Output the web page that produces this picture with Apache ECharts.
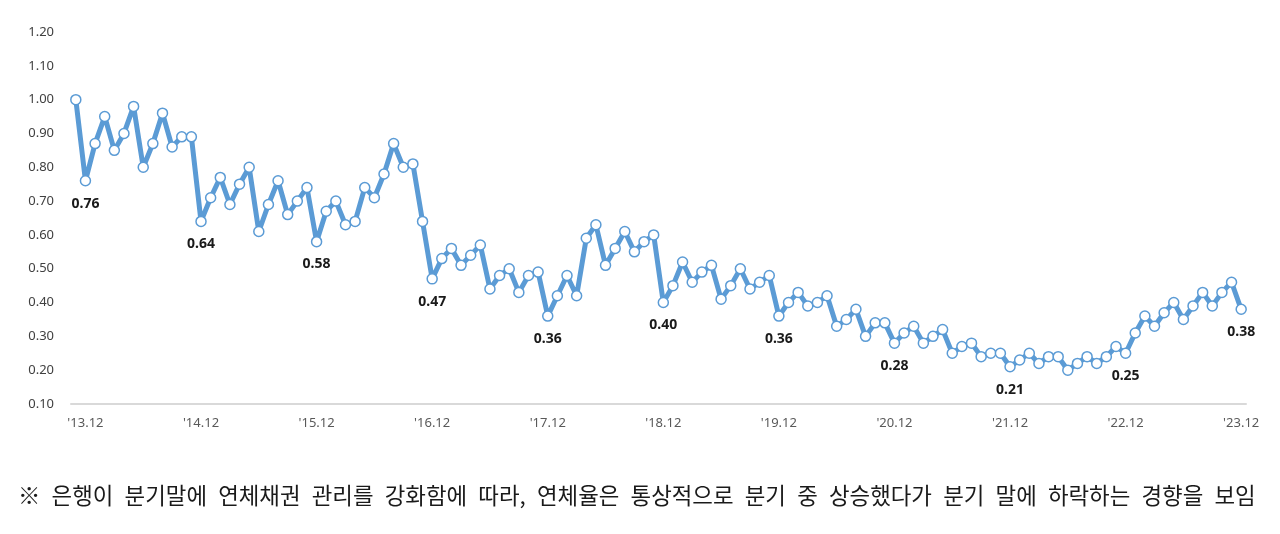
<!DOCTYPE html>
<html>
<head>
<meta charset="utf-8">
<title>은행 연체율 추이</title>
<script src="https://cdn.jsdelivr.net/npm/echarts@6/dist/echarts.min.js"></script>
<style>
  html, body { margin: 0; padding: 0; background: #fff; }
  #chart { width: 1280px; height: 534px; }
</style>
</head>
<body>
<div id="chart"></div>
<script>
  // 월별 연체율 ('13.11 ~ '23.12)
  var years = [2013, 2014, 2015, 2016, 2017, 2018, 2019, 2020, 2021, 2022, 2023]
  var rates = [
    1.00, 0.76,
    0.87, 0.95, 0.85, 0.90, 0.98, 0.80, 0.87, 0.96, 0.86, 0.89, 0.89, 0.64,
    0.71, 0.77, 0.69, 0.75, 0.80, 0.61, 0.69, 0.76, 0.66, 0.70, 0.74, 0.58,
    0.67, 0.70, 0.63, 0.64, 0.74, 0.71, 0.78, 0.87, 0.80, 0.81, 0.64, 0.47,
    0.53, 0.56, 0.51, 0.54, 0.57, 0.44, 0.48, 0.50, 0.43, 0.48, 0.49, 0.36,
    0.42, 0.48, 0.42, 0.59, 0.63, 0.51, 0.56, 0.61, 0.55, 0.58, 0.60, 0.40,
    0.45, 0.52, 0.46, 0.49, 0.51, 0.41, 0.45, 0.50, 0.44, 0.46, 0.48, 0.36,
    0.40, 0.43, 0.39, 0.40, 0.42, 0.33, 0.35, 0.38, 0.30, 0.34, 0.34, 0.28,
    0.31, 0.33, 0.28, 0.30, 0.32, 0.25, 0.27, 0.28, 0.24, 0.25, 0.25, 0.21,
    0.23, 0.25, 0.22, 0.24, 0.24, 0.20, 0.22, 0.24, 0.22, 0.24, 0.27, 0.25,
    0.31, 0.36, 0.33, 0.37, 0.40, 0.35, 0.39, 0.43, 0.39, 0.43, 0.46, 0.38
  ]
  // y축 눈금
  var yTicks = [0.10, 0.20, 0.30, 0.40, 0.50, 0.60, 0.70, 0.80, 0.90, 1.00, 1.10, 1.20]
  var footNote = '※ 은행이 분기말에 연체채권 관리를 강화함에 따라, 연체율은 통상적으로 분기 중 상승했다가 분기 말에 하락하는 경향을 보임'

  //카테고리 (월)
  var months = ["'13.11"]
  years.forEach(function(y){
    if(y === 2013){
      months.push("'13.12")
      return
    }
    for(var m = 1; m <= 12; m++){
      months.push("'" + String(y).slice(2) + '.' + (m < 10 ? '0' + m : m))
    }
  })

  //연말 여부
  var isYearEnd = function(i){
    return /\.12$/.test(months[i])
  }

  //연말 값만 라벨 표시
  var seriesData = rates.map(function(v, i){
    return {
      value: v,
      label: { show: isYearEnd(i) }
    }
  })

  var myChart = echarts.init(document.getElementById('chart'))
  var option = {
    animation: false,
    backgroundColor: '#fff',
    grid: { left: 71, right: 34, top: 32, bottom: 130 },
    xAxis: {
      type: 'category',
      boundaryGap: true,
      data: months,
      axisLine: { lineStyle: { color: '#d9d9d9', width: 2 } },
      axisTick: { show: false },
      axisLabel: {
        interval: function(i){ return isYearEnd(i) },
        color: '#595959',
        fontFamily: 'Noto Sans',
        fontSize: 13,
        margin: 13
      }
    },
    yAxis: {
      type: 'value',
      min: yTicks[0],
      max: yTicks[yTicks.length - 1],
      interval: 0.1,
      splitLine: { show: false },
      axisLine: { show: false },
      axisTick: { show: false },
      axisLabel: {
        color: '#404040',
        fontFamily: 'Noto Sans',
        fontSize: 13,
        margin: 17,
        formatter: function(v){ return v.toFixed(2) }
      }
    },
    series: [
      {
        type: 'line',
        data: seriesData,
        symbol: 'circle',
        symbolSize: 10,
        showAllSymbol: true,
        lineStyle: { color: '#5b9bd5', width: 5 },
        itemStyle: { color: '#fff', borderColor: '#5b9bd5', borderWidth: 1.5 },
        label: {
          position: 'bottom',
          distance: 10,
          color: '#1a1a1a',
          fontWeight: 'bold',
          fontFamily: 'Noto Sans',
          fontSize: 14,
          formatter: function(p){ return p.value.toFixed(2) }
        }
      }
    ],
    graphic: [
      {
        type: 'text',
        left: 18,
        top: 484,
        style: {
          text: footNote.replace(/ /g, '\u2002'),
          font: '22.4px "Noto Sans CJK KR"',
          fill: '#1a1a1a'
        }
      }
    ]
  }
  myChart.setOption(option)
</script>
</body>
</html>
